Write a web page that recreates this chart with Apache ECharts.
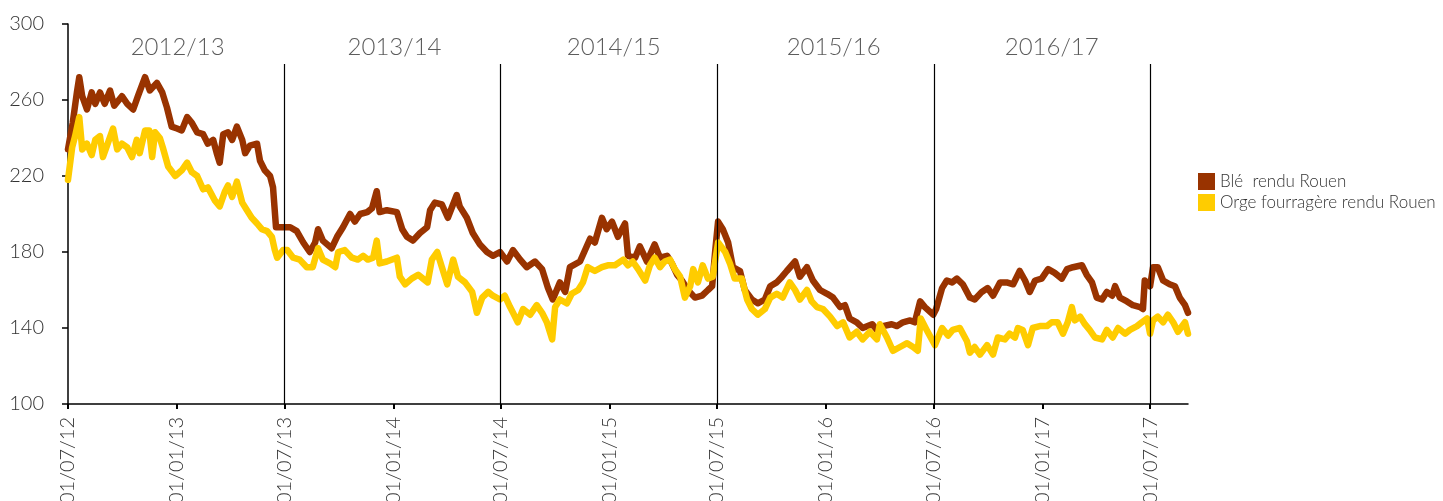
<!DOCTYPE html>
<html lang="fr">
<head>
    <meta charset="UTF-8">
    <title>Prix Blé / Orge rendu Rouen</title>
    <script src="https://cdn.jsdelivr.net/npm/echarts@6.0.0/dist/echarts.min.js"></script>
    <style>
        html, body { margin: 0; padding: 0; background: #fff; }
        #main { width: 1443px; height: 501px; }
    </style>
</head>
<body>
<div id="main"></div>

<script type="text/javascript">
    // ---- données ----
    var wheatName = 'Blé  rendu Rouen';
    var barleyName = 'Orge fourragère rendu Rouen';

    var wheatDates = [
        '2012-07-01','2012-07-09','2012-07-16','2012-07-20','2012-07-25','2012-08-02','2012-08-10','2012-08-16','2012-08-24','2012-09-01',
        '2012-09-10','2012-09-17','2012-09-30','2012-10-09','2012-10-19','2012-10-27','2012-11-08','2012-11-16','2012-11-28','2012-12-07',
        '2012-12-15','2012-12-23','2013-01-01','2013-01-09','2013-01-18','2013-01-26','2013-02-04','2013-02-14','2013-02-22','2013-03-03',
        '2013-03-09','2013-03-14','2013-03-20','2013-03-28','2013-04-04','2013-04-12','2013-04-21','2013-04-26','2013-05-04','2013-05-16',
        '2013-05-21','2013-05-29','2013-06-07','2013-06-12','2013-06-17','2013-06-27','2013-07-11','2013-07-22','2013-08-02','2013-08-13',
        '2013-08-22','2013-08-27','2013-09-04','2013-09-19','2013-09-28','2013-10-08','2013-10-20','2013-10-28','2013-11-06','2013-11-18',
        '2013-11-26','2013-12-04','2013-12-09','2013-12-21','2014-01-07','2014-01-16','2014-01-24','2014-02-03','2014-02-15','2014-02-27',
        '2014-03-04','2014-03-12','2014-03-24','2014-04-03','2014-04-18','2014-04-23','2014-05-05','2014-05-15','2014-05-27','2014-06-08',
        '2014-06-18','2014-06-30','2014-07-12','2014-07-22','2014-08-03','2014-08-14','2014-08-28','2014-09-09','2014-09-19','2014-09-27',
        '2014-10-09','2014-10-18','2014-10-26','2014-11-12','2014-11-29','2014-12-07','2014-12-19','2014-12-27','2015-01-05','2015-01-15',
        '2015-01-27','2015-02-01','2015-02-13','2015-02-21','2015-03-05','2015-03-18','2015-03-27','2015-04-08','2015-04-16','2015-04-25',
        '2015-05-03','2015-05-13','2015-05-25','2015-06-06','2015-06-16','2015-06-23','2015-06-28','2015-07-03','2015-07-11','2015-07-20',
        '2015-07-28','2015-08-09','2015-08-17','2015-08-29','2015-09-08','2015-09-20','2015-09-29','2015-10-10','2015-10-19','2015-10-27',
        '2015-11-10','2015-11-18','2015-11-30','2015-12-10','2015-12-22','2016-01-03','2016-01-13','2016-01-25','2016-02-02','2016-02-10',
        '2016-02-22','2016-03-03','2016-03-19','2016-03-27','2016-04-06','2016-04-21','2016-04-30','2016-05-10','2016-05-22','2016-05-30',
        '2016-06-08','2016-06-16','2016-06-30','2016-07-05','2016-07-15','2016-07-23','2016-08-01','2016-08-09','2016-08-19','2016-08-31',
        '2016-09-08','2016-09-20','2016-09-30','2016-10-09','2016-10-21','2016-11-01','2016-11-12','2016-11-23','2016-12-02','2016-12-10',
        '2016-12-19','2016-12-30','2017-01-10','2017-01-21','2017-02-02','2017-02-11','2017-02-21','2017-03-08','2017-03-16','2017-03-25',
        '2017-04-02','2017-04-11','2017-04-19','2017-04-28','2017-05-03','2017-05-11','2017-05-23','2017-06-02','2017-06-14','2017-06-19',
        '2017-06-22','2017-07-01','2017-07-06','2017-07-14','2017-07-23','2017-08-03','2017-08-12','2017-08-20','2017-08-29','2017-09-03'
    ];
    var wheatPrices = [
        234,248,264,272,262,255,264,258,264,258,
        265,257,262,258,255,262,272,265,269,264,
        256,246,245,244,251,248,243,242,237,239,
        232,227,242,243,239,246,239,232,236,237,
        228,223,220,214,193,193,193,191,185,180,
        185,192,186,182,188,193,200,196,200,201,
        203,212,201,202,201,192,188,186,190,193,
        202,206,205,198,210,204,198,190,184,180,
        178,180,175,181,176,172,175,171,161,155,
        164,159,172,175,187,185,198,192,196,188,
        195,178,177,183,175,184,177,178,174,168,
        165,160,156,157,160,162,180,196,192,185,
        172,170,160,155,153,155,162,164,167,170,
        175,167,172,165,160,158,156,151,152,145,
        143,140,142,139,141,142,141,143,144,143,
        154,151,147,150,161,165,164,166,163,156,
        155,159,161,157,164,164,163,170,165,159,
        165,166,171,169,166,171,172,173,168,164,
        156,155,159,157,162,156,154,152,151,150,
        165,162,172,172,165,163,162,156,152,148
    ];

    var barleyDates = [
        '2012-07-01','2012-07-08','2012-07-13','2012-07-20','2012-07-25','2012-08-02','2012-08-10','2012-08-16','2012-08-24','2012-08-29',
        '2012-09-06','2012-09-15','2012-09-22','2012-09-30','2012-10-09','2012-10-17','2012-10-25','2012-10-30','2012-11-08','2012-11-15',
        '2012-11-20','2012-11-25','2012-12-03','2012-12-08','2012-12-17','2012-12-29','2013-01-09','2013-01-18','2013-01-26','2013-02-04',
        '2013-02-14','2013-02-22','2013-03-06','2013-03-14','2013-03-23','2013-03-28','2013-04-04','2013-04-12','2013-04-21','2013-04-29',
        '2013-05-07','2013-05-16','2013-05-24','2013-06-02','2013-06-10','2013-06-15','2013-06-19','2013-06-29','2013-07-06','2013-07-16',
        '2013-07-27','2013-08-08','2013-08-18','2013-08-27','2013-09-04','2013-09-16','2013-09-25','2013-09-30','2013-10-11','2013-10-23',
        '2013-11-02','2013-11-11','2013-11-19','2013-11-28','2013-12-04','2013-12-09','2013-12-21','2014-01-07','2014-01-12','2014-01-21',
        '2014-02-01','2014-02-12','2014-02-20','2014-02-28','2014-03-07','2014-03-16','2014-03-24','2014-04-02','2014-04-12','2014-04-20',
        '2014-05-02','2014-05-14','2014-05-22','2014-05-31','2014-06-10','2014-06-18','2014-06-30','2014-07-08','2014-07-17','2014-07-22',
        '2014-07-30','2014-08-08','2014-08-20','2014-08-31','2014-09-09','2014-09-17','2014-09-26','2014-10-01','2014-10-09','2014-10-21',
        '2014-10-29','2014-11-09','2014-11-17','2014-11-25','2014-12-07','2014-12-19','2014-12-29','2015-01-10','2015-01-24','2015-02-01',
        '2015-02-09','2015-02-18','2015-03-02','2015-03-10','2015-03-18','2015-03-27','2015-04-04','2015-04-13','2015-04-21','2015-04-30',
        '2015-05-08','2015-05-17','2015-05-22','2015-05-30','2015-06-07','2015-06-16','2015-06-24','2015-07-03','2015-07-15','2015-07-23',
        '2015-07-31','2015-08-12','2015-08-21','2015-08-29','2015-09-08','2015-09-20','2015-09-29','2015-10-10','2015-10-20','2015-11-01',
        '2015-11-10','2015-11-18','2015-11-30','2015-12-08','2015-12-17','2015-12-27','2016-01-08','2016-01-20','2016-01-30','2016-02-10',
        '2016-02-22','2016-03-03','2016-03-15','2016-03-27','2016-04-01','2016-04-13','2016-04-23','2016-05-05','2016-05-17','2016-05-27',
        '2016-06-04','2016-06-09','2016-06-19','2016-07-03','2016-07-15','2016-07-25','2016-08-02','2016-08-14','2016-08-26','2016-08-31',
        '2016-09-08','2016-09-17','2016-09-29','2016-10-09','2016-10-17','2016-10-29','2016-11-06','2016-11-15','2016-11-20','2016-11-28',
        '2016-12-07','2016-12-15','2016-12-27','2017-01-08','2017-01-16','2017-01-26','2017-02-04','2017-02-12','2017-02-19','2017-02-24',
        '2017-03-05','2017-03-13','2017-03-21','2017-03-30','2017-04-11','2017-04-19','2017-04-29','2017-05-08','2017-05-20','2017-05-28',
        '2017-06-09','2017-06-17','2017-06-26','2017-07-01','2017-07-06','2017-07-14','2017-07-23','2017-07-31','2017-08-09','2017-08-17',
        '2017-08-29','2017-09-03'
    ];
    var barleyPrices = [
        218,235,241,251,234,237,231,239,241,230,
        237,245,234,237,235,230,239,232,244,244,
        230,243,240,235,225,220,223,227,222,220,
        213,214,207,204,212,215,209,217,206,202,
        198,195,192,191,188,181,177,181,181,177,
        176,172,172,182,176,174,172,180,181,177,
        176,178,176,177,186,174,175,177,167,163,
        166,168,166,164,176,180,172,163,176,167,
        164,159,148,156,159,157,155,157,151,148,
        143,150,147,152,148,143,134,151,155,153,
        158,160,164,172,170,172,173,173,176,173,
        175,171,165,173,177,172,175,176,171,167,
        156,162,171,164,173,166,167,185,180,174,
        166,166,155,150,147,150,156,158,156,164,
        160,155,160,154,151,150,146,141,143,135,
        138,134,138,134,142,135,128,130,132,130,
        128,145,139,131,140,136,139,140,133,127,
        130,126,131,126,135,134,137,135,140,139,
        131,140,141,141,143,143,137,143,151,144,
        146,142,139,135,134,139,135,140,137,139,
        141,143,145,137,144,146,143,147,143,138,
        143,137
    ];

    // campagnes (libellés en haut) et séparations au 1er juillet
    var seasonLabels = ['2012/13', '2013/14', '2014/15', '2015/16', '2016/17'];
    var seasonLabelDates = ['2013-01-02', '2014-01-03', '2015-01-08', '2016-01-14', '2017-01-16'];
    var seasonBreaks = ['2013-07-01', '2014-07-01', '2015-07-01', '2016-07-01', '2017-07-01'];

    // graduations
    var tickDates = [
        '2012-07-01', '2013-01-01', '2013-07-01', '2014-01-01', '2014-07-01', '2015-01-01',
        '2015-07-01', '2016-01-01', '2016-07-01', '2017-01-01', '2017-07-01'
    ];
    var xStart = '2012-07-01';
    var xEnd = '2017-09-03';
    var yMin = 100, yMax = 300, yStep = 40;
    var labelValue = 288, breakTop = 279;

    // dates ISO -> millisecondes (UTC), pour un axe en valeurs
    function ts(d) { return Date.parse(d); }
    function zip(a, b) {
        return a.map(function (d, i) { return [ts(d), b[i]]; });
    }
    function pad(n) { return n < 10 ? '0' + n : '' + n; }

    var font = 'Lato, "Open Sans", sans-serif';
    var textColor = '#333';

    var myChart = echarts.init(document.getElementById('main'), null, { renderer: 'canvas' });

    var option = {
        animation: false,
        backgroundColor: '#fff',
        textStyle: { fontFamily: font },
        // pas de réduction automatique : les dates du bas sont coupées comme sur l'original
        grid: { left: 68, right: 255, top: 24, bottom: 97, outerBoundsMode: 'none', containLabel: false },
        legend: {
            orient: 'vertical',
            left: 1193,
            top: 168,
            itemWidth: 17,
            itemHeight: 17,
            itemGap: 4,
            icon: 'rect',
            data: [wheatName, barleyName],
            textStyle: { fontSize: 17, color: textColor, fontWeight: 300 }
        },
        xAxis: {
            type: 'value',
            min: ts(xStart),
            max: ts(xEnd),
            splitLine: { show: false },
            axisLine: { lineStyle: { color: '#000', width: 1.5 } },
            axisTick: { show: true, length: 5, customValues: tickDates.map(ts), lineStyle: { color: '#000', width: 2 } },
            axisLabel: {
                customValues: tickDates.map(ts),
                rotate: 90,
                margin: 13,
                fontSize: 20,
                fontWeight: 300,
                color: textColor,
                formatter: function (value) {
                    var d = new Date(value);
                    return pad(d.getUTCDate()) + '/' + pad(d.getUTCMonth() + 1) + '/' + pad(d.getUTCFullYear() % 100);
                }
            }
        },
        yAxis: {
            type: 'value',
            min: yMin,
            max: yMax,
            interval: yStep,
            splitLine: { show: false },
            axisLine: { show: true, lineStyle: { color: '#000', width: 1.5 } },
            axisTick: { show: true, length: 6, lineStyle: { color: '#000', width: 1.5 } },
            axisLabel: { margin: 24, fontSize: 20, fontWeight: 300, color: textColor }
        },
        series: [
            {
                name: wheatName,
                type: 'line',
                data: zip(wheatDates, wheatPrices),
                showSymbol: false,
                symbol: 'none',
                color: '#993300',
                lineStyle: { width: 6.5, color: '#993300', join: 'round', cap: 'round' },
                z: 2
            },
            {
                name: barleyName,
                type: 'line',
                data: zip(barleyDates, barleyPrices),
                showSymbol: false,
                symbol: 'none',
                color: '#ffcc00',
                lineStyle: { width: 6.5, color: '#ffcc00', join: 'round', cap: 'round' },
                z: 3
            },
            {
                name: 'campagnes',
                type: 'scatter',
                symbolSize: 0,
                silent: true,
                data: seasonLabelDates.map(function (d, i) {
                    return { name: seasonLabels[i], value: [ts(d), labelValue] };
                }),
                label: {
                    show: true,
                    position: 'inside',
                    formatter: '{b}',
                    fontSize: 24,
                    fontWeight: 300,
                    color: textColor
                },
                markLine: {
                    silent: true,
                    symbol: 'none',
                    label: { show: false },
                    lineStyle: { color: '#000', width: 1.2, type: 'solid' },
                    data: seasonBreaks.map(function (d) {
                        return [{ coord: [ts(d), breakTop] }, { coord: [ts(d), yMin] }];
                    })
                },
                z: 1
            }
        ]
    };
    myChart.setOption(option);
</script>
</body>
</html>
